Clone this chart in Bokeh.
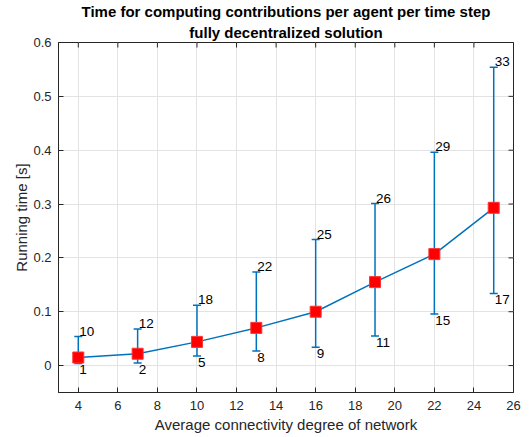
import math
from bokeh.plotting import figure
from bokeh.models import (ColumnDataSource, Whisker, TeeHead, LabelSet, LinearAxis,
                          Range1d, FixedTicker, Title)
from bokeh.core.properties import value
from bokeh.embed import file_html
from bokeh.resources import INLINE

degree = [4, 7, 10, 13, 16, 19, 22, 25]
mean_time = [0.015, 0.022, 0.044, 0.070, 0.100, 0.155, 0.207, 0.293]
upper_time = [0.054, 0.068, 0.112, 0.174, 0.234, 0.301, 0.396, 0.554]
lower_time = [0.004, 0.005, 0.018, 0.027, 0.034, 0.055, 0.096, 0.134]
upper_label = ["10", "12", "18", "22", "25", "26", "29", "33"]
lower_label = ["1", "2", "5", "8", "9", "11", "15", "17"]
x_ticks = [4, 6, 8, 10, 12, 14, 16, 18, 20, 22, 24, 26]
y_ticks = [0, 0.1, 0.2, 0.3, 0.4, 0.5, 0.6]
title_lines = ["Time for computing contributions per agent per time step",
               "fully decentralized solution"]

FONT = "Liberation Sans"
BLUE = "#0072BD"
AX = "#262626"

src = ColumnDataSource(dict(x=degree, m=mean_time, up=upper_time, lo=lower_time,
                            ul=upper_label, ll=lower_label))

p = figure(frame_width=455, frame_height=350, output_backend="svg", toolbar_location=None,
           x_range=Range1d(3, 26), y_range=Range1d(-0.05, 0.6),
           min_border_left=58, min_border_right=8, min_border_top=42, min_border_bottom=40,
           x_axis_location=None, y_axis_location=None)

# two centred title lines (later-added goes farther from the plot)
for i, txt in enumerate(reversed(title_lines)):
    t = Title(text=txt, align="center", text_font=FONT, text_font_size="15px",
              text_font_style="bold", text_color="#000000",
              standoff=4 if i == 0 else 0, offset=0)
    p.add_layout(t, "above")

def style_axis(ax, std, lab_std):
    ax.major_tick_in = 5
    ax.major_tick_out = 0
    ax.minor_tick_in = 0
    ax.minor_tick_out = 0
    ax.axis_line_color = AX
    ax.major_tick_line_color = AX
    ax.major_label_text_font = FONT
    ax.major_label_text_font_size = "13px"
    ax.major_label_text_color = AX
    ax.axis_label_text_font = FONT
    ax.axis_label_text_font_size = "15px"
    ax.axis_label_text_font_style = "normal"
    ax.axis_label_text_color = AX
    ax.major_label_standoff = std
    ax.axis_label_standoff = lab_std

xb = LinearAxis(ticker=FixedTicker(ticks=x_ticks), axis_label="Average connectivity degree of network")
style_axis(xb, 8, 3)
yl = LinearAxis(ticker=FixedTicker(ticks=y_ticks), axis_label="Running time [s]")
style_axis(yl, 7, 0)
yl.major_label_overrides = {0: "0"}
p.add_layout(xb, "below")
p.add_layout(yl, "left")

p.xgrid.ticker = FixedTicker(ticks=x_ticks)
p.ygrid.ticker = FixedTicker(ticks=y_ticks)
for g in (p.xgrid, p.ygrid):
    g.grid_line_color = "#e3e3e3"
    g.grid_line_width = 1
p.outline_line_color = AX
p.outline_line_width = 1
p.background_fill_color = "white"

# inward ticks on the top and right edges of the box (half of each dash is clipped)
top_y = [p.y_range.end] * len(x_ticks)
right_x = [p.x_range.end] * len(y_ticks)
p.scatter(x_ticks, top_y, marker="dash", angle=math.pi / 2, size=10, line_color=AX, line_width=1)
p.scatter(right_x, y_ticks, marker="dash", size=10, line_color=AX, line_width=1)

w = Whisker(base="x", upper="up", lower="lo", source=src, dimension="height",
            line_color=BLUE, line_width=1.5,
            upper_head=TeeHead(size=8, line_color=BLUE, line_width=1.5),
            lower_head=TeeHead(size=8, line_color=BLUE, line_width=1.5))
p.add_layout(w)

p.line("x", "m", source=src, line_color=BLUE, line_width=1.5)
p.scatter("x", "m", source=src, marker="square", size=11, fill_color="#ff0000",
          line_color="#ff3333", line_width=1)

up_lbl = LabelSet(x="x", y="up", text="ul", source=src, x_offset=1, y_offset=1,
                  text_baseline="bottom", text_align="left",
                  text_font=value(FONT), text_font_size=value("13.5px"), text_color="#000000")
lo_lbl = LabelSet(x="x", y="lo", text="ll", source=src, x_offset=1, y_offset=-2,
                  text_baseline="top", text_align="left",
                  text_font=value(FONT), text_font_size=value("13.5px"), text_color="#000000")
p.add_layout(up_lbl)
p.add_layout(lo_lbl)

open("out.html", "w").write(file_html(p, INLINE))
